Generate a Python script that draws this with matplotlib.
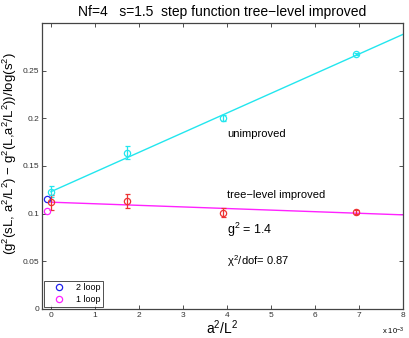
import matplotlib
matplotlib.use("Agg")
import matplotlib.pyplot as plt
import numpy as np
from matplotlib.ticker import FuncFormatter

plt.rcParams['font.family'] = ['Liberation Sans', 'DejaVu Sans']
plt.rcParams['mathtext.fontset'] = 'custom'
plt.rcParams['mathtext.rm'] = 'Liberation Sans'
plt.rcParams['mathtext.it'] = 'Liberation Sans'

# data
a2L2 = [0.0, 1.736e-3, 3.906e-3, 6.944e-3]
unimp = [0.123, 0.164, 0.200, 0.267]
unimp_err = [0.006, 0.007, 0.003, 0.001]
tree = [0.112, 0.1134, 0.101, 0.1015]
tree_err = [0.008, 0.007, 0.005, 0.002]
fit_x = [0.0, 8e-3]
unimp_fit = [0.123, 0.288]
tree_fit = [0.112, 0.0987]
loop2_x, loop2_y = [-0.1e-3], [0.115]
loop1_x, loop1_y = [-0.09e-3], [0.103]
xticks = [0, 1e-3, 2e-3, 3e-3, 4e-3, 5e-3, 6e-3, 7e-3, 8e-3]
yticks = [0, 0.05, 0.1, 0.15, 0.2, 0.25]

fig = plt.figure(figsize=(4.09, 3.38), dpi=100)
ax = fig.add_axes([0.103, 0.086, 0.882, 0.846])

cyan = '#22e6ee'
mag = '#ff22ff'
red = '#ee3333'
blue = '#2222ee'

ax.plot(fit_x, unimp_fit, color=cyan, lw=1.0)
ax.plot(fit_x, tree_fit, color=mag, lw=1.0)
ax.errorbar(a2L2, unimp, yerr=unimp_err, fmt='o', mfc='none', mec=cyan,
            ecolor=cyan, ms=4.5, mew=0.9, capsize=1.8, elinewidth=0.9)
ax.errorbar(a2L2, tree, yerr=tree_err, fmt='o', mfc='none', mec=red,
            ecolor=red, ms=4.5, mew=0.9, capsize=1.8, elinewidth=0.9)
l2, = ax.plot(loop2_x, loop2_y, 'o', mfc='none', mec=blue, ms=4.5, mew=0.9, label='2 loop')
l1, = ax.plot(loop1_x, loop1_y, 'o', mfc='none', mec=mag, ms=4.5, mew=0.9, label='1 loop')

ax.set_xlim(-0.2e-3, 8e-3)
ax.set_ylim(0, 0.3)
ax.set_xticks(xticks)
ax.set_yticks(yticks)
ax.xaxis.set_major_formatter(FuncFormatter(lambda v, p: f"{v*1e3:g}"))
ax.yaxis.set_major_formatter(FuncFormatter(lambda v, p: f"{v:g}"))
ax.tick_params(direction='in', top=True, right=True, labelsize=6, length=3, width=0.6,
               colors='#333333', pad=2)
for s in ax.spines.values():
    s.set_color('#444444')
    s.set_linewidth(0.9)

ax.set_title('Nf=4   s=1.5  step function tree\u2212level improved', fontsize=10, pad=5)
ax.set_xlabel(r'a$^2$/L$^2$', fontsize=10, labelpad=0)
ax.set_ylabel(r'(g$^2$(sL, a$^2$/L$^2$) $-$ g$^2$(L,a$^2$/L$^2$))/log(s$^2$)', fontsize=9.5)
ax.yaxis.set_label_coords(-0.064, 0.545)
fig.text(0.935, 0.01, r'x 10$^{-3}$', fontsize=5.5)

ax.text(4.0e-3, 0.184, 'unimproved', fontsize=8, va='center')
ax.text(4.0e-3, 0.120, 'tree\u2212level improved', fontsize=8, va='center')
ax.text(4.0e-3, 0.083, r'g$^2$ = 1.4', fontsize=9, va='center')
ax.text(4.0e-3, 0.050, r'$\chi^2$/dof= 0.87', fontsize=8, va='center')

leg = ax.legend(handles=[l2, l1], loc='lower left', fontsize=6.5, frameon=True,
                fancybox=False, edgecolor='black', handletextpad=0.6,
                borderaxespad=0.25, borderpad=0.3, labelspacing=0.3, handlelength=2.6)
leg.get_frame().set_linewidth(0.6)

fig.savefig('out.png', dpi=100)
